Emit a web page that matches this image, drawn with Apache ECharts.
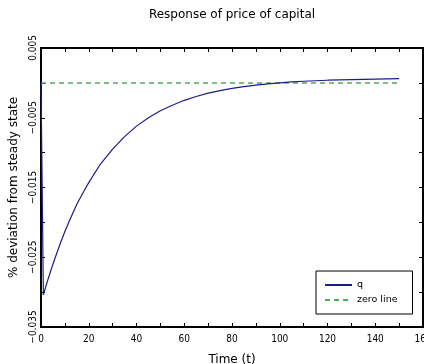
<!DOCTYPE html>
<html>
<head>
    <meta charset="utf-8">
    <title>Response of price of capital</title>
    <script src="https://cdn.jsdelivr.net/npm/echarts@6/dist/echarts.min.js"></script>
</head>
<body style="margin:0">
    <div id="main" style="width:424px;height:364px;"></div>
    <script type="text/javascript">
        // periods
        var periods = [0, 1, 2, 3, 4, 5, 6, 8, 10, 12, 15, 18, 20, 22, 25, 30, 35, 40, 45, 50,
            55, 60, 65, 70, 75, 80, 85, 90, 95, 100, 105, 110, 120, 130, 140, 150];
        // q, % deviation from steady state
        var qValues = [0, -0.0304, -0.0292, -0.0281, -0.0270, -0.0260, -0.0250, -0.0231, -0.0213, -0.0197,
            -0.0174, -0.0155, -0.0143, -0.0132, -0.0116, -0.0095, -0.0077, -0.0062, -0.0050, -0.0040,
            -0.0032, -0.0025, -0.00195, -0.00148, -0.00110, -0.00079, -0.00053, -0.00031, -0.00013, 0.00001,
            0.00013, 0.00023, 0.00038, 0.00048, 0.00055, 0.0006];
        var zeroT = [0, 150];
        var zeroValues = [0, 0];
        var yLabelValues = [0.005, -0.005, -0.015, -0.025, -0.035];

        var font = 'DejaVu Sans';
        var tickFont = "'DejaVu Sans Condensed', 'DejaVu Sans'";

        function pairs(xs, ys) {
            return xs.map(function (x, i) { return [x, ys[i]]; });
        }

        function yLabel(v) {
            var hit = yLabelValues.some(function (l) { return Math.abs(l - v) < 1e-9; });
            if (!hit) return '';
            return v.toFixed(3).replace('-', '\u2212');
        }

        var tick = { inside: true, length: 4, lineStyle: { color: '#000' } };

        var myChart = echarts.init(document.getElementById('main'));
        var option = {
            animation: false,
            backgroundColor: '#fff',
            title: {
                text: 'Response of price of capital',
                left: 227,
                top: 4,
                textAlign: 'center',
                textStyle: { fontFamily: font, fontSize: 12, fontWeight: 'normal', color: '#000' }
            },
            legend: {
                data: ['q', 'zero line'],
                orient: 'vertical',
                left: 316,
                top: 271,
                backgroundColor: '#fff',
                borderColor: '#000',
                borderWidth: 1,
                padding: [9, 15, 9, 8],
                itemWidth: 27,
                itemHeight: 10,
                itemGap: 5,
                itemStyle: { opacity: 0 },
                textStyle: { fontFamily: font, fontSize: 9.5, color: '#000' }
            },
            grid: {
                left: 41, top: 48, right: 1, bottom: 37,
                outerBoundsMode: 'none',
                show: true,
                borderColor: '#000',
                borderWidth: 2
            },
            xAxis: [{
                type: 'value',
                min: 0, max: 160, interval: 10,
                name: 'Time (t)',
                nameLocation: 'middle',
                nameGap: 27,
                nameTextStyle: { fontFamily: font, fontSize: 12, color: '#000' },
                axisLine: { show: true, onZero: false, lineStyle: { color: '#000', width: 2 } },
                axisTick: tick,
                axisLabel: {
                    margin: 7,
                    fontFamily: tickFont, fontSize: 10, color: '#000',
                    formatter: function (v) { return v % 20 === 0 ? String(v) : ''; }
                },
                splitLine: { show: false }
            }, {
                type: 'value', position: 'top',
                min: 0, max: 160, interval: 10,
                axisLine: { show: false, onZero: false },
                axisTick: tick,
                axisLabel: { show: false },
                splitLine: { show: false }
            }],
            yAxis: [{
                type: 'value',
                min: -0.035, max: 0.005, interval: 0.005,
                name: '% deviation from steady state',
                nameLocation: 'middle',
                nameGap: 18,
                nameTextStyle: { fontFamily: font, fontSize: 12, color: '#000' },
                axisLine: { show: true, onZero: false, lineStyle: { color: '#000', width: 2 } },
                axisTick: tick,
                axisLabel: {
                    rotate: 90,
                    margin: 3,
                    fontFamily: tickFont, fontSize: 10, color: '#000',
                    formatter: yLabel
                },
                splitLine: { show: false }
            }, {
                type: 'value', position: 'right',
                min: -0.035, max: 0.005, interval: 0.005,
                axisLine: { show: false, onZero: false },
                axisTick: tick,
                axisLabel: { show: false },
                splitLine: { show: false }
            }],
            series: [{
                name: 'q',
                type: 'line',
                data: pairs(periods, qValues),
                symbol: 'none',
                color: '#1c1c8c',
                lineStyle: { color: '#1c1c8c', width: 1.2 },
                z: 3
            }, {
                name: 'zero line',
                type: 'line',
                data: pairs(zeroT, zeroValues),
                symbol: 'none',
                color: '#2e9e2e',
                lineStyle: { color: '#4caf50', width: 1.5, type: [5, 4] },
                z: 2
            }]
        };
        myChart.setOption(option);
    </script>
</body>
</html>
